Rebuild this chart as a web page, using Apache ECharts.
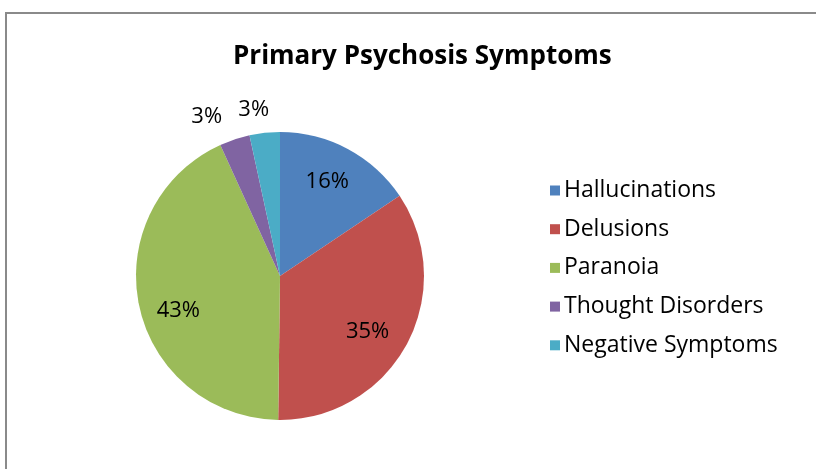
<!DOCTYPE html>
<html>
<head>
<meta charset="utf-8">
<script src="https://cdn.jsdelivr.net/npm/echarts@6/dist/echarts.min.js"></script>
<style>
  html, body { margin: 0; padding: 0; background: #fff; }
  #chart { width: 816px; height: 469px; }
</style>
</head>
<body>
<div id="chart"></div>
<script>
// data
const categories = ['Hallucinations', 'Delusions', 'Paranoia', 'Thought Disorders', 'Negative Symptoms'];
const shares = [15.6, 34.6, 43.0, 3.4, 3.4];
const colors = ['#4F81BD', '#C0504D', '#9BBB59', '#8064A2', '#4BACC6'];
const smallSlices = [3, 4];   // labelled outside the pie

const FONT = 'Open Sans';

function pctLabel(p) {
    return Math.round(p.percent) + '%';
}

// small nudges so labels sit where Excel's "best fit" put them
const innerNudge = { 0: [-5, 4], 1: [-10, 3], 2: [7, 12] };

document.addEventListener('DOMContentLoaded', function() {
    const chart = echarts.init(document.getElementById('chart'));

    // main pie: fills the circle, only the small slices get an outside label
    const mainData = categories.map(function(name, i) {
        const small = smallSlices.indexOf(i) >= 0;
        return {
            name: name,
            value: shares[i],
            itemStyle: { color: colors[i] },
            label: { show: small }
        };
    });

    // label ring: transparent, just puts the big slice labels at ~3/4 radius
    const ringData = categories.map(function(name, i) {
        const small = smallSlices.indexOf(i) >= 0;
        return {
            name: name,
            value: shares[i],
            itemStyle: { color: 'rgba(0,0,0,0)' },
            label: { show: !small }
        };
    });

    chart.setOption({
        animation: false,
        color: colors,
        title: {
            text: 'Primary Psychosis Symptoms',
            left: 228,
            top: 39,
            textStyle: { fontFamily: FONT, fontSize: 26, fontWeight: 'bold', color: '#000' }
        },
        legend: {
            orient: 'vertical',
            left: 545,
            top: 174,
            itemWidth: 10,
            itemHeight: 10,
            itemGap: 15.7,
            icon: 'rect',
            data: categories,
            textStyle: { fontFamily: FONT, fontSize: 23, lineHeight: 20, color: '#000', padding: [0, 0, 0, -1] }
        },
        graphic: [{
            type: 'rect',
            shape: { x: 6, y: 13, width: 900, height: 600 },
            style: { fill: 'none', stroke: '#8a8a8a', lineWidth: 2 },
            silent: true
        }],
        series: [{
            type: 'pie',
            center: [280, 276],
            radius: [0, 144],
            startAngle: 90,
            clockwise: true,
            avoidLabelOverlap: false,
            data: mainData,
            label: {
                position: 'outside',
                formatter: pctLabel,
                fontFamily: FONT,
                fontSize: 22,
                color: '#000'
            },
            labelLine: { show: false, length: 24, length2: 0 },
            labelLayout: function(params) {
                if (params.dataIndex === 4) return { dx: 12, dy: 1 };
                return {};
            },
            emphasis: { disabled: true }
        }, {
            type: 'pie',
            center: [280, 276],
            radius: [72, 144],
            startAngle: 90,
            clockwise: true,
            silent: true,
            data: ringData,
            label: {
                position: 'inside',
                formatter: pctLabel,
                fontFamily: FONT,
                fontSize: 22,
                color: '#000'
            },
            labelLine: { show: false },
            labelLayout: function(params) {
                const n = innerNudge[params.dataIndex];
                return n ? { dx: n[0], dy: n[1] } : {};
            },
            emphasis: { disabled: true }
        }]
    });
});
</script>
</body>
</html>
